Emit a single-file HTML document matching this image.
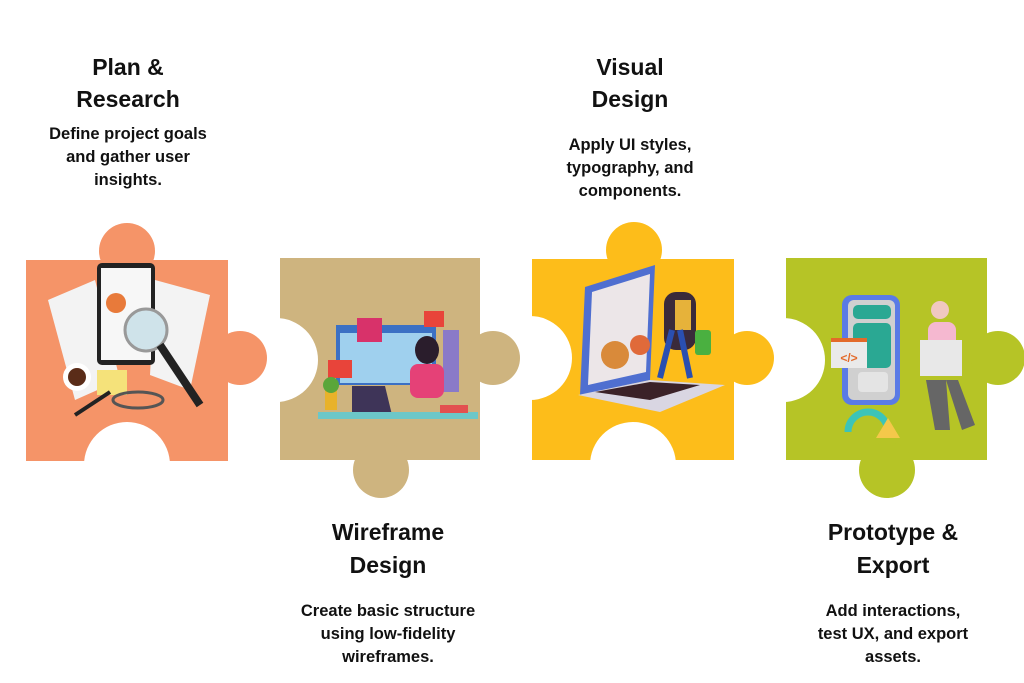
<!DOCTYPE html>
<html><head><meta charset="utf-8"><style>
html,body{margin:0;padding:0;background:#fff;width:1024px;height:683px;overflow:hidden}
svg{display:block}
text{font-family:"Liberation Sans",sans-serif;font-weight:bold;fill:#111;text-anchor:middle}
.t{font-size:23px}.d{font-size:16.5px}
</style></head><body>
<svg width="1024" height="683" viewBox="0 0 1024 683">
<!-- rects -->
<rect x="26" y="260" width="202" height="201" fill="#F59468"/>
<rect x="280" y="258" width="200" height="202" fill="#CEB47F"/>
<rect x="532" y="259" width="202" height="201" fill="#FDBD1A"/>
<rect x="786" y="258" width="201" height="202" fill="#B6C426"/>
<!-- notches -->
<g fill="#fff">
<circle cx="127" cy="465" r="43"/>
<circle cx="276" cy="360" r="42"/>
<circle cx="530" cy="358" r="42"/>
<circle cx="633" cy="465" r="43"/>
<circle cx="783" cy="360" r="42"/>
</g>
<!-- tabs -->
<g fill="#F59468"><circle cx="127" cy="251" r="28"/><circle cx="240" cy="358" r="27"/></g>
<g fill="#CEB47F"><circle cx="493" cy="358" r="27"/><circle cx="381" cy="470" r="28"/></g>
<g fill="#FDBD1A"><circle cx="634" cy="250" r="28"/><circle cx="747" cy="358" r="27"/></g>
<g fill="#B6C426"><circle cx="998" cy="358" r="27"/><circle cx="887" cy="470" r="28"/></g>

<!-- illustration 1 -->
<g>
<polygon points="48,300 95,280 120,380 75,400" fill="#f3f3f3"/>
<polygon points="155,280 210,295 190,390 150,375" fill="#f3f3f3"/>
<rect x="97" y="263" width="58" height="102" rx="5" fill="#222"/>
<rect x="101" y="268" width="50" height="92" fill="#f7f7f7"/>
<circle cx="116" cy="303" r="10" fill="#e87a3a"/>
<circle cx="146" cy="330" r="21" fill="#cfe3ea" stroke="#999" stroke-width="3"/>
<line x1="160" y1="345" x2="200" y2="405" stroke="#222" stroke-width="8"/>
<circle cx="77" cy="377" r="14" fill="#fff"/><circle cx="77" cy="377" r="9" fill="#5a2c18"/>
<rect x="97" y="370" width="30" height="25" fill="#f5e27a"/>
<line x1="75" y1="415" x2="110" y2="392" stroke="#222" stroke-width="4"/>
<ellipse cx="138" cy="400" rx="25" ry="8" fill="none" stroke="#555" stroke-width="3"/>
</g>
<!-- illustration 2 -->
<g>
<rect x="336" y="325" width="100" height="60" fill="#3b70c4"/>
<rect x="340" y="333" width="92" height="50" fill="#9fd0ee"/>
<rect x="357" y="318" width="25" height="24" fill="#d8326a"/>
<rect x="424" y="311" width="20" height="16" fill="#e8443a"/>
<rect x="443" y="330" width="16" height="62" fill="#8a7ac8"/>
<rect x="328" y="360" width="24" height="18" fill="#e8443a"/>
<ellipse cx="427" cy="350" rx="12" ry="14" fill="#2a1d2c"/>
<rect x="410" y="364" width="34" height="34" rx="8" fill="#e54177"/>
<polygon points="352,386 385,386 392,415 352,415" fill="#3e3458"/>
<rect x="318" y="412" width="160" height="7" fill="#6cc7c8"/>
<rect x="325" y="390" width="12" height="20" fill="#e8b22a"/>
<circle cx="331" cy="385" r="8" fill="#5aa63a"/>
<rect x="440" y="405" width="28" height="8" fill="#e35050"/>
</g>
<!-- illustration 3 -->
<g>
<polygon points="585,287 655,265 650,380 580,395" fill="#4f6fd0"/>
<polygon points="592,292 650,274 646,372 588,385" fill="#ece6e8"/>
<polygon points="578,395 650,380 725,385 660,412" fill="#d9d6e2"/>
<polygon points="595,392 650,382 700,385 650,400" fill="#3b2228"/>
<circle cx="615" cy="355" r="14" fill="#d98a3a"/>
<circle cx="640" cy="345" r="10" fill="#e06a3a"/>
<rect x="664" y="292" width="32" height="58" rx="12" fill="#3a2a3a"/>
<rect x="695" y="330" width="16" height="25" rx="3" fill="#4ab040"/>
<rect x="675" y="300" width="16" height="30" fill="#e6b23a"/>
<line x1="672" y1="330" x2="660" y2="378" stroke="#2a4fb0" stroke-width="6"/>
<line x1="680" y1="330" x2="690" y2="378" stroke="#2a4fb0" stroke-width="6"/>
</g>
<!-- illustration 4 -->
<g>
<rect x="842" y="295" width="58" height="110" rx="10" fill="#5a7be6"/>
<rect x="848" y="300" width="47" height="100" rx="6" fill="#d0d0d0"/>
<rect x="853" y="305" width="38" height="14" rx="5" fill="#2aa893"/>
<rect x="853" y="323" width="38" height="45" rx="5" fill="#2aa893"/>
<rect x="858" y="372" width="30" height="20" rx="4" fill="#e4e4e4"/>
<rect x="831" y="338" width="36" height="30" fill="#eaeaea"/>
<rect x="831" y="338" width="36" height="4" fill="#e36a2a"/>
<text x="849" y="362" style="font-size:12px;fill:#e36a2a">&lt;/&gt;</text>
<circle cx="940" cy="310" r="9" fill="#f0c8c0"/>
<rect x="928" y="322" width="28" height="38" rx="8" fill="#f5b8d0"/>
<rect x="920" y="340" width="42" height="36" fill="#e8e8e8"/>
<polygon points="926,380 946,380 950,430 935,430" fill="#666"/>
<polygon points="946,380 958,380 975,425 962,430" fill="#666"/>
<path d="M848,432 a20,20 0 0 1 40,0" fill="none" stroke="#3cc4b8" stroke-width="7"/>
<polygon points="876,438 888,418 900,438" fill="#f4c84a"/>
</g>

<!-- text -->
<text class="t" x="128" y="75">Plan &amp;</text>
<text class="t" x="128" y="107">Research</text>
<text class="d" x="128" y="139">Define project goals</text>
<text class="d" x="128" y="162">and gather user</text>
<text class="d" x="128" y="185">insights.</text>

<text class="t" x="630" y="75">Visual</text>
<text class="t" x="630" y="107">Design</text>
<text class="d" x="630" y="150">Apply UI styles,</text>
<text class="d" x="630" y="173">typography, and</text>
<text class="d" x="630" y="196">components.</text>

<text class="t" x="388" y="540">Wireframe</text>
<text class="t" x="388" y="573">Design</text>
<text class="d" x="388" y="616">Create basic structure</text>
<text class="d" x="388" y="639">using low-fidelity</text>
<text class="d" x="388" y="662">wireframes.</text>

<text class="t" x="893" y="540">Prototype &amp;</text>
<text class="t" x="893" y="573">Export</text>
<text class="d" x="893" y="616">Add interactions,</text>
<text class="d" x="893" y="639">test UX, and export</text>
<text class="d" x="893" y="662">assets.</text>
</svg>
</body></html>
